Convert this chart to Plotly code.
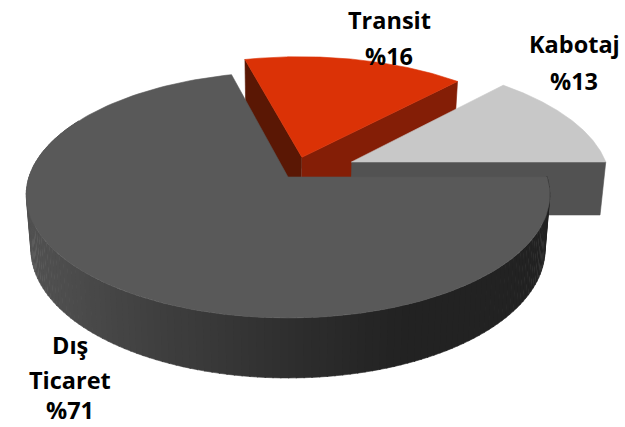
import numpy as np
import plotly.graph_objects as go

categories = ["Kabotaj", "Transit", "Dış Ticaret"]
values = [13, 16, 71]
label_lines = [["Kabotaj", "%13"], ["Transit", "%16"], ["Dış", "Ticaret", "%71"]]
top_colors = ["#C8C8C8", "#DB3206", "#595959"]
label_x = [574, 389, 70]
label_y = [[44, 81], [20, 56], [345, 380, 410]]
explode = [0.28, 0.176, 0.0]

W, H = 625, 427
CX, CY, R, RY, K = 288, 177, 259, 120.5, 0.145


def top(u, v):
    d = 1 + K * v
    return CX + R * u / d, CY - RY * v / d


def bottom(u, v):
    x, y = top(u, v)
    return CX + (x - CX) * 0.982, y + 53 + (y - 162) * 0.045


fracs = np.array(values) / sum(values) * 2 * np.pi
starts = np.concatenate([[0], np.cumsum(fracs)[:-1]])
ends = np.cumsum(fracs)
dirs = {0: 27, 1: 71.8, 2: 0}


def offset(i):
    a = np.radians(dirs[i])
    return explode[i] * np.cos(a), explode[i] * np.sin(a)


fig = go.Figure()


def poly(xs, ys, color):
    fig.add_trace(go.Scatter(x=list(xs), y=list(ys), mode="lines", fill="toself",
                             fillcolor=color, line=dict(color=color, width=0.6),
                             hoverinfo="skip", showlegend=False))


def wall(i, t, color):
    u0, v0 = offset(i)
    a = (u0, v0)
    b = (u0 + np.cos(t), v0 + np.sin(t))
    p = [top(*a), top(*b), bottom(*b), bottom(*a)]
    poly([q[0] for q in p], [q[1] for q in p], color)


def top_face(i):
    u0, v0 = offset(i)
    th = np.linspace(starts[i], ends[i], 160)
    us = np.concatenate([[u0], u0 + np.cos(th), [u0]])
    vs = np.concatenate([[v0], v0 + np.sin(th), [v0]])
    x, y = top(us, vs)
    poly(x, y, top_colors[i])


# Transit (back)
wall(1, ends[1], "#5A1704")
wall(1, starts[1], "#841E06")
top_face(1)

# Kabotaj
wall(0, starts[0], "#525252")
top_face(0)

# Main slice: curved wall with gradient by screen x
stops_x = [27, 60, 110, 200, 290, 350, 400, 549]
stops_v = [82, 78, 70, 58, 47, 40, 35, 34]
th = np.radians(np.arange(150, 361, 1.5))
for a, b in zip(th[:-1], th[1:]):
    ts = np.array([a, b + 0.004])
    xt, yt = top(np.cos(ts), np.sin(ts))
    xb, yb = bottom(np.cos(ts), np.sin(ts))
    g = int(np.interp(xt.mean(), stops_x, stops_v))
    poly([xt[0], xt[1], xb[1], xb[0]], [yt[0], yt[1], yb[1], yb[0]], f"rgb({g},{g},{g})")
top_face(2)

annotations = []
for lines, lx, lys in zip(label_lines, label_x, label_y):
    for text, ly in zip(lines, lys):
        annotations.append(dict(x=lx, y=ly, xref="x", yref="y", text=f"<b>{text}</b>",
                                showarrow=False, xanchor="center", yanchor="middle",
                                borderpad=0, borderwidth=0,
                                font=dict(family="Open Sans", size=23.5, color="#000000")))

fig.update_layout(
    width=W, height=H, margin=dict(l=0, r=0, t=0, b=0),
    paper_bgcolor="white", plot_bgcolor="white", showlegend=False,
    xaxis=dict(range=[0, W], visible=False, fixedrange=True),
    yaxis=dict(range=[H, 0], visible=False, fixedrange=True),
    annotations=annotations,
)
fig.write_html("out.html", config={"displayModeBar": False},
               post_script="document.body.style.margin='0';document.body.style.overflow='hidden';")
